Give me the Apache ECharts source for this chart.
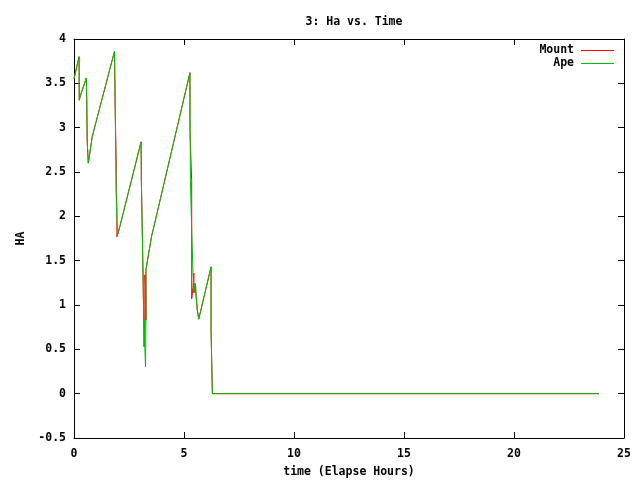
<!DOCTYPE html>
<html><head><meta charset="utf-8">
<script src="https://cdn.jsdelivr.net/npm/echarts@6/dist/echarts.min.js"></script>
<style>html,body{margin:0;padding:0;background:#fff}#c{width:640px;height:480px}</style>
</head><body><div id="c"></div>
<script>
const title = "3: Ha vs. Time";
const xName = "time (Elapse Hours)";
const yName = "HA";
const seriesNames = ["Mount", "Ape"];
const xTicks = [0, 5, 10, 15, 20, 25];
const yTicks = [-0.5, 0, 0.5, 1, 1.5, 2, 2.5, 3, 3.5, 4];

const apeTime = [0.00,0.23,0.24,0.30,0.56,0.58,0.60,0.65,0.83,1.84,1.87,1.90,1.93,1.96,1.98,2.00,2.09,3.05,3.06,3.12,3.12,3.16,3.16,3.19,3.19,3.22,3.22,3.25,3.27,3.27,3.30,3.53,3.60,5.27,5.29,5.29,5.36,5.36,5.41,5.41,5.45,5.45,5.48,5.50,5.52,5.54,5.60,5.60,5.67,6.23,6.23,6.29,6.29,23.86];
const apeHa   = [3.55,3.80,3.31,3.37,3.56,3.32,2.85,2.60,2.90,3.86,3.40,2.60,2.10,1.92,1.88,1.80,1.89,2.84,2.43,2.43,1.61,1.61,0.98,0.98,0.53,0.83,0.53,0.30,0.83,1.40,1.40,1.78,1.85,3.62,3.62,2.40,2.40,1.77,1.77,1.36,1.36,1.14,1.24,1.14,1.24,1.14,1.14,0.95,0.84,1.43,0.72,0.72,0.00,0.00];

const mountTime = [0.00,0.23,0.24,0.30,0.56,0.58,0.60,0.65,0.83,1.84,1.86,1.86,1.92,1.92,1.95,1.95,1.98,2.00,2.09,3.05,3.06,3.12,3.12,3.16,3.16,3.19,3.19,3.22,3.22,3.25,3.27,3.27,3.30,3.53,3.60,5.27,5.27,5.27,5.35,5.35,5.38,5.41,5.45,5.45,5.48,5.50,5.52,5.54,5.60,5.60,5.67,6.23,6.23,6.29,6.29,23.86];
const mountHa   = [3.55,3.80,3.31,3.37,3.56,3.32,2.85,2.60,2.90,3.86,3.44,3.34,2.60,2.29,2.10,1.77,1.80,1.80,1.89,2.84,2.43,2.43,1.61,1.61,0.98,0.98,0.53,0.83,1.34,1.23,0.83,1.40,1.40,1.78,1.85,3.62,3.20,2.98,2.40,1.07,1.07,1.20,1.36,1.14,1.24,1.14,1.24,1.14,1.14,0.95,0.84,1.43,0.72,0.72,0.00,0.00];

function pairs(t, v) { const n = Math.min(t.length, v.length); const out = []; for (let i = 0; i < n; i++) out.push([t[i], v[i]]); return out; }

const FONT = "DejaVu Sans Mono";
const chart = echarts.init(document.getElementById('c'), null, {renderer: 'canvas'});
function legendFor(name, top) {
  return {
    data: [name], orient: 'vertical', right: 26, top: top, align: 'right', padding: 0,
    icon: 'rect', itemWidth: 33, itemHeight: 1, itemGap: 0,
    textStyle: {fontFamily: FONT, fontWeight: 'bold', fontSize: 11.5, color: '#000', lineHeight: 13, padding: [0, 2, 0, 0]}
  };
}
const gridRect = {left: 74, right: 16, top: 39, bottom: 42, show: false, outerBoundsMode: 'none', containLabel: false};
const tick = {show: true, inside: true, length: 6, lineStyle: {color: '#000', width: 1}};
const line = {show: true, lineStyle: {color: '#000', width: 1}};
const xMin = xTicks[0], xMax = xTicks[xTicks.length - 1];
chart.setOption({
  animation: false,
  backgroundColor: '#fff',
  title: {text: title, left: 349, top: 11, textAlign: 'center',
    textStyle: {fontFamily: FONT, fontWeight: 'bold', fontSize: 11.5, color: '#000'}},
  grid: [Object.assign({}, gridRect), Object.assign({}, gridRect), Object.assign({}, gridRect)],
  legend: [legendFor(seriesNames[0], 44), legendFor(seriesNames[1], 57)],
  xAxis: [
    // data axis for the series (grid 0)
    {gridIndex: 0, type: 'value', min: xMin, max: xMax, interval: 5, show: false},
    // bottom frame axis with labels (grid 1, sits on its y-axis zero = bottom edge)
    {gridIndex: 1, type: 'value', min: xMin, max: xMax, interval: 5, position: 'bottom',
      axisLine: line, axisTick: tick, splitLine: {show: false},
      name: xName, nameLocation: 'middle', nameGap: 28,
      nameTextStyle: {fontFamily: FONT, fontWeight: 'bold', fontSize: 11.5, color: '#000'},
      axisLabel: {fontFamily: FONT, fontWeight: 'bold', fontSize: 11.5, color: '#000', margin: 10}},
    // top frame axis (grid 2, sits on its y-axis zero = top edge)
    {gridIndex: 2, type: 'value', min: xMin, max: xMax, interval: 5, position: 'top',
      axisLine: line, axisTick: tick, splitLine: {show: false}, axisLabel: {show: false}}
  ],
  yAxis: [
    {gridIndex: 0, type: 'value', min: yTicks[0], max: yTicks[yTicks.length-1], interval: 0.5, position: 'left',
      axisLine: line, axisTick: tick, splitLine: {show: false},
      name: yName, nameLocation: 'middle', nameGap: 39, nameRotate: 90,
      nameTextStyle: {fontFamily: FONT, fontWeight: 'bold', fontSize: 11.5, color: '#000'},
      axisLabel: {fontFamily: FONT, fontWeight: 'bold', fontSize: 11.5, color: '#000', margin: 8}},
    {gridIndex: 0, type: 'value', min: yTicks[0], max: yTicks[yTicks.length-1], interval: 0.5, position: 'right',
      axisLine: {show: true, onZero: false, lineStyle: {color: '#000', width: 1}}, axisTick: tick, splitLine: {show: false}, axisLabel: {show: false}},
    {gridIndex: 1, type: 'value', min: 0, max: 1, show: false, axisLine: {onZero: false}},
    {gridIndex: 2, type: 'value', min: -1, max: 0, show: false, axisLine: {onZero: false}}
  ],
  series: [
    {name: seriesNames[0], type: 'line', xAxisIndex: 0, yAxisIndex: 0, showSymbol: false, symbol: 'none', data: pairs(mountTime, mountHa),
      lineStyle: {color: '#ff0000', width: 1}, itemStyle: {color: '#ff0000'}, z: 2},
    {name: seriesNames[1], type: 'line', xAxisIndex: 0, yAxisIndex: 0, showSymbol: false, symbol: 'none', data: pairs(apeTime, apeHa),
      lineStyle: {color: '#00c000', width: 1}, itemStyle: {color: '#00c000'}, z: 3}
  ]
});
</script></body></html>
